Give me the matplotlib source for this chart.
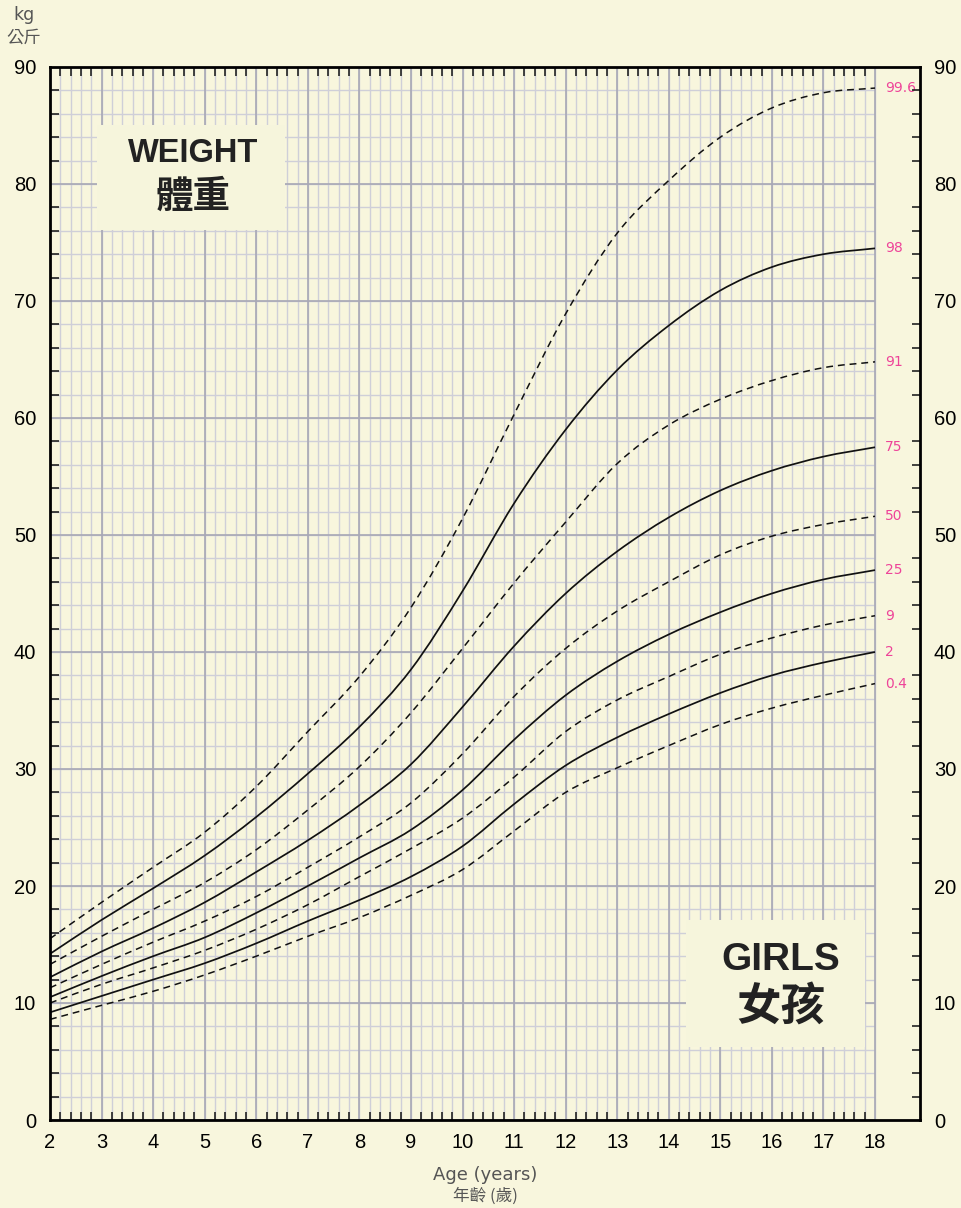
import numpy as np
import matplotlib
matplotlib.use('Agg')
import matplotlib.pyplot as plt
from matplotlib.path import Path
from matplotlib.patches import PathPatch

# percentile curves, one value per year of age (kg)
ages = [2, 3, 4, 5, 6, 7, 8, 9, 10, 11, 12, 13, 14, 15, 16, 17, 18]
p99_6 = [15.5, 18.6, 21.6, 24.6, 28.5, 33.2, 37.9, 43.8, 51.4, 60.3, 68.9, 75.8, 80.3, 84.0, 86.5, 87.8, 88.2]
p98 = [14.2, 17.1, 19.8, 22.6, 25.9, 29.6, 33.6, 38.5, 45.2, 52.7, 59.0, 64.1, 67.9, 70.9, 72.9, 74.0, 74.5]
p91 = [13.3, 15.7, 18.0, 20.3, 23.1, 26.5, 30.2, 34.8, 40.3, 45.9, 51.1, 56.1, 59.4, 61.6, 63.2, 64.3, 64.8]
p75 = [12.2, 14.4, 16.4, 18.6, 21.2, 23.9, 26.9, 30.4, 35.3, 40.5, 45.0, 48.6, 51.5, 53.8, 55.5, 56.7, 57.5]
p50 = [11.3, 13.3, 15.2, 17.0, 19.1, 21.6, 24.2, 27.1, 31.3, 36.2, 40.3, 43.5, 46.0, 48.3, 49.9, 50.9, 51.6]
p25 = [10.5, 12.3, 14.0, 15.6, 17.7, 20.0, 22.4, 24.8, 28.2, 32.5, 36.3, 39.2, 41.5, 43.4, 45.0, 46.2, 47.0]
p9 = [10.0, 11.6, 13.0, 14.5, 16.3, 18.4, 20.8, 23.2, 25.8, 29.3, 33.2, 35.9, 37.9, 39.8, 41.2, 42.3, 43.1]
p2 = [9.2, 10.6, 12.0, 13.4, 15.1, 17.0, 18.8, 20.8, 23.4, 27.0, 30.3, 32.7, 34.7, 36.5, 38.0, 39.1, 40.0]
p0_4 = [8.6, 9.8, 11.0, 12.4, 14.0, 15.7, 17.3, 19.2, 21.4, 24.7, 28.0, 30.1, 32.0, 33.8, 35.2, 36.3, 37.3]

curve_labels = ['99.6', '98', '91', '75', '50', '25', '9', '2', '0.4']
curves = [p99_6, p98, p91, p75, p50, p25, p9, p2, p0_4]
dashed = [True, False, True, False, True, False, True, False, True]

x_ticks = list(range(2, 19))
y_ticks = list(range(0, 91, 10))

BG = '#f8f6dd'
PINK = '#ee4499'
W, H = 962, 1208
PX_X = 51.5625   # pixels per year
PX_Y = 1053 / 90  # pixels per kg


def smooth_path(xs, ys):
    # bezier segments through the read points (catmull-rom tangents)
    xs = np.asarray(xs, float)
    ys = np.asarray(ys, float)
    n = len(xs)
    m = np.zeros(n)
    m[1:-1] = (ys[2:] - ys[:-2]) / (xs[2:] - xs[:-2])
    m[0] = (ys[1] - ys[0]) / (xs[1] - xs[0])
    m[-1] = (ys[-1] - ys[-2]) / (xs[-1] - xs[-2])
    verts = [(xs[0], ys[0])]
    codes = [Path.MOVETO]
    for i in range(n - 1):
        h = xs[i + 1] - xs[i]
        verts += [(xs[i] + h / 3, ys[i] + m[i] * h / 3),
                  (xs[i + 1] - h / 3, ys[i + 1] - m[i + 1] * h / 3),
                  (xs[i + 1], ys[i + 1])]
        codes += [Path.CURVE4] * 3
    return Path(verts, codes)


fig = plt.figure(figsize=(W / 100, H / 100), dpi=100, facecolor=BG)
ax = fig.add_axes([50 / W, 1 - 1120 / H, 870 / W, 1053 / H])
ax.set_facecolor(BG)
xmax = 2 + 870 / PX_X
ax.set_xlim(2, xmax)
ax.set_ylim(0, 90)

# graph paper grid, only inside 2..18 years
minor_x = np.round(np.arange(2, 18.001, 0.2), 1)
ax.vlines(minor_x, 0, 90, colors='#cfcfd8', lw=1.0, zorder=1)
ax.hlines(np.arange(0, 91, 2), 2, 18, colors='#cfcfd8', lw=1.0, zorder=1)
ax.vlines(x_ticks, 0, 90, colors='#a8a8b5', lw=1.2, zorder=1)
ax.hlines(y_ticks, 2, 18, colors='#a8a8b5', lw=1.2, zorder=1)

# label boxes covering the grid
ax.add_patch(plt.Rectangle((2 + 47 / PX_X, (1120 - 230) / PX_Y), 188 / PX_X, 105 / PX_Y,
                           facecolor='#f6f5dc', edgecolor='none', zorder=2))
ax.add_patch(plt.Rectangle((2 + 636 / PX_X, (1120 - 1047) / PX_Y), 179 / PX_X, 127 / PX_Y,
                           facecolor='#f6f5dc', edgecolor='none', zorder=2))

for lab, vals, dsh in zip(curve_labels, curves, dashed):
    ls = (0, (4.5, 3.2)) if dsh else '-'
    ax.add_patch(PathPatch(smooth_path(ages, vals), fill=False, edgecolor='#111111',
                           lw=1.1 if dsh else 1.25, linestyle=ls, zorder=3))
    ax.text(18.19, vals[-1], lab, color=PINK, fontsize=10, va='center', ha='left',
            family='DejaVu Sans', zorder=4)

# inward tick marks along the frame
tl_x = 8.5 / PX_X
tl_y = 8.5 / PX_Y
tick_x = [v for v in minor_x if abs(v - round(v)) > 0.01]
ax.vlines(tick_x, 0, tl_y, colors='#222222', lw=1.2, zorder=5)
ax.vlines(tick_x, 90 - tl_y, 90, colors='#222222', lw=1.2, zorder=5)
tick_y = [v for v in range(2, 90, 2) if v % 10]
ax.hlines(tick_y, 2, 2 + tl_x, colors='#222222', lw=1.2, zorder=5)
ax.hlines(tick_y, xmax - tl_x, xmax, colors='#222222', lw=1.2, zorder=5)

for s in ax.spines.values():
    s.set_linewidth(2.0)
    s.set_color('black')
    s.set_zorder(6)

ax.set_xticks(x_ticks)
ax.set_yticks(y_ticks)
ax.tick_params(length=0, labelsize=14.5, right=False, labelright=True)
ax.tick_params(axis='x', pad=9)
ax.tick_params(axis='y', pad=10)
for t in ax.get_xticklabels() + ax.get_yticklabels():
    t.set_family('Liberation Sans')


def fx(px):
    return px / W


def fy(py):
    return 1 - py / H


fig.text(fx(24), fy(15), 'kg', fontsize=12.5, color='#555555', ha='center', va='center')
fig.text(fx(24), fy(38), '公斤', fontsize=12.5, color='#555555', ha='center', va='center',
         family='Noto Sans CJK TC')
fig.text(fx(193), fy(154), 'WEIGHT', fontsize=23.5, fontweight='bold', color='#222222',
         ha='center', va='center', family='Liberation Sans')
fig.text(fx(193), fy(196), '體重', fontsize=27, fontweight='bold', color='#222222',
         ha='center', va='center', family='Noto Sans CJK TC')
fig.text(fx(781), fy(960), 'GIRLS', fontsize=28, fontweight='bold', color='#222222',
         ha='center', va='center', family='Liberation Sans')
fig.text(fx(781), fy(1007), '女孩', fontsize=32, fontweight='bold', color='#222222',
         ha='center', va='center', family='Noto Sans CJK TC')
fig.text(fx(485), fy(1175), 'Age (years)', fontsize=13, color='#555555', ha='center', va='center')
fig.text(fx(485), fy(1196), '年齡 (歲)', fontsize=12, color='#555555', ha='center', va='center',
         family=['Noto Sans CJK TC', 'DejaVu Sans'])

fig.savefig('out.png', dpi=100, facecolor=BG)
